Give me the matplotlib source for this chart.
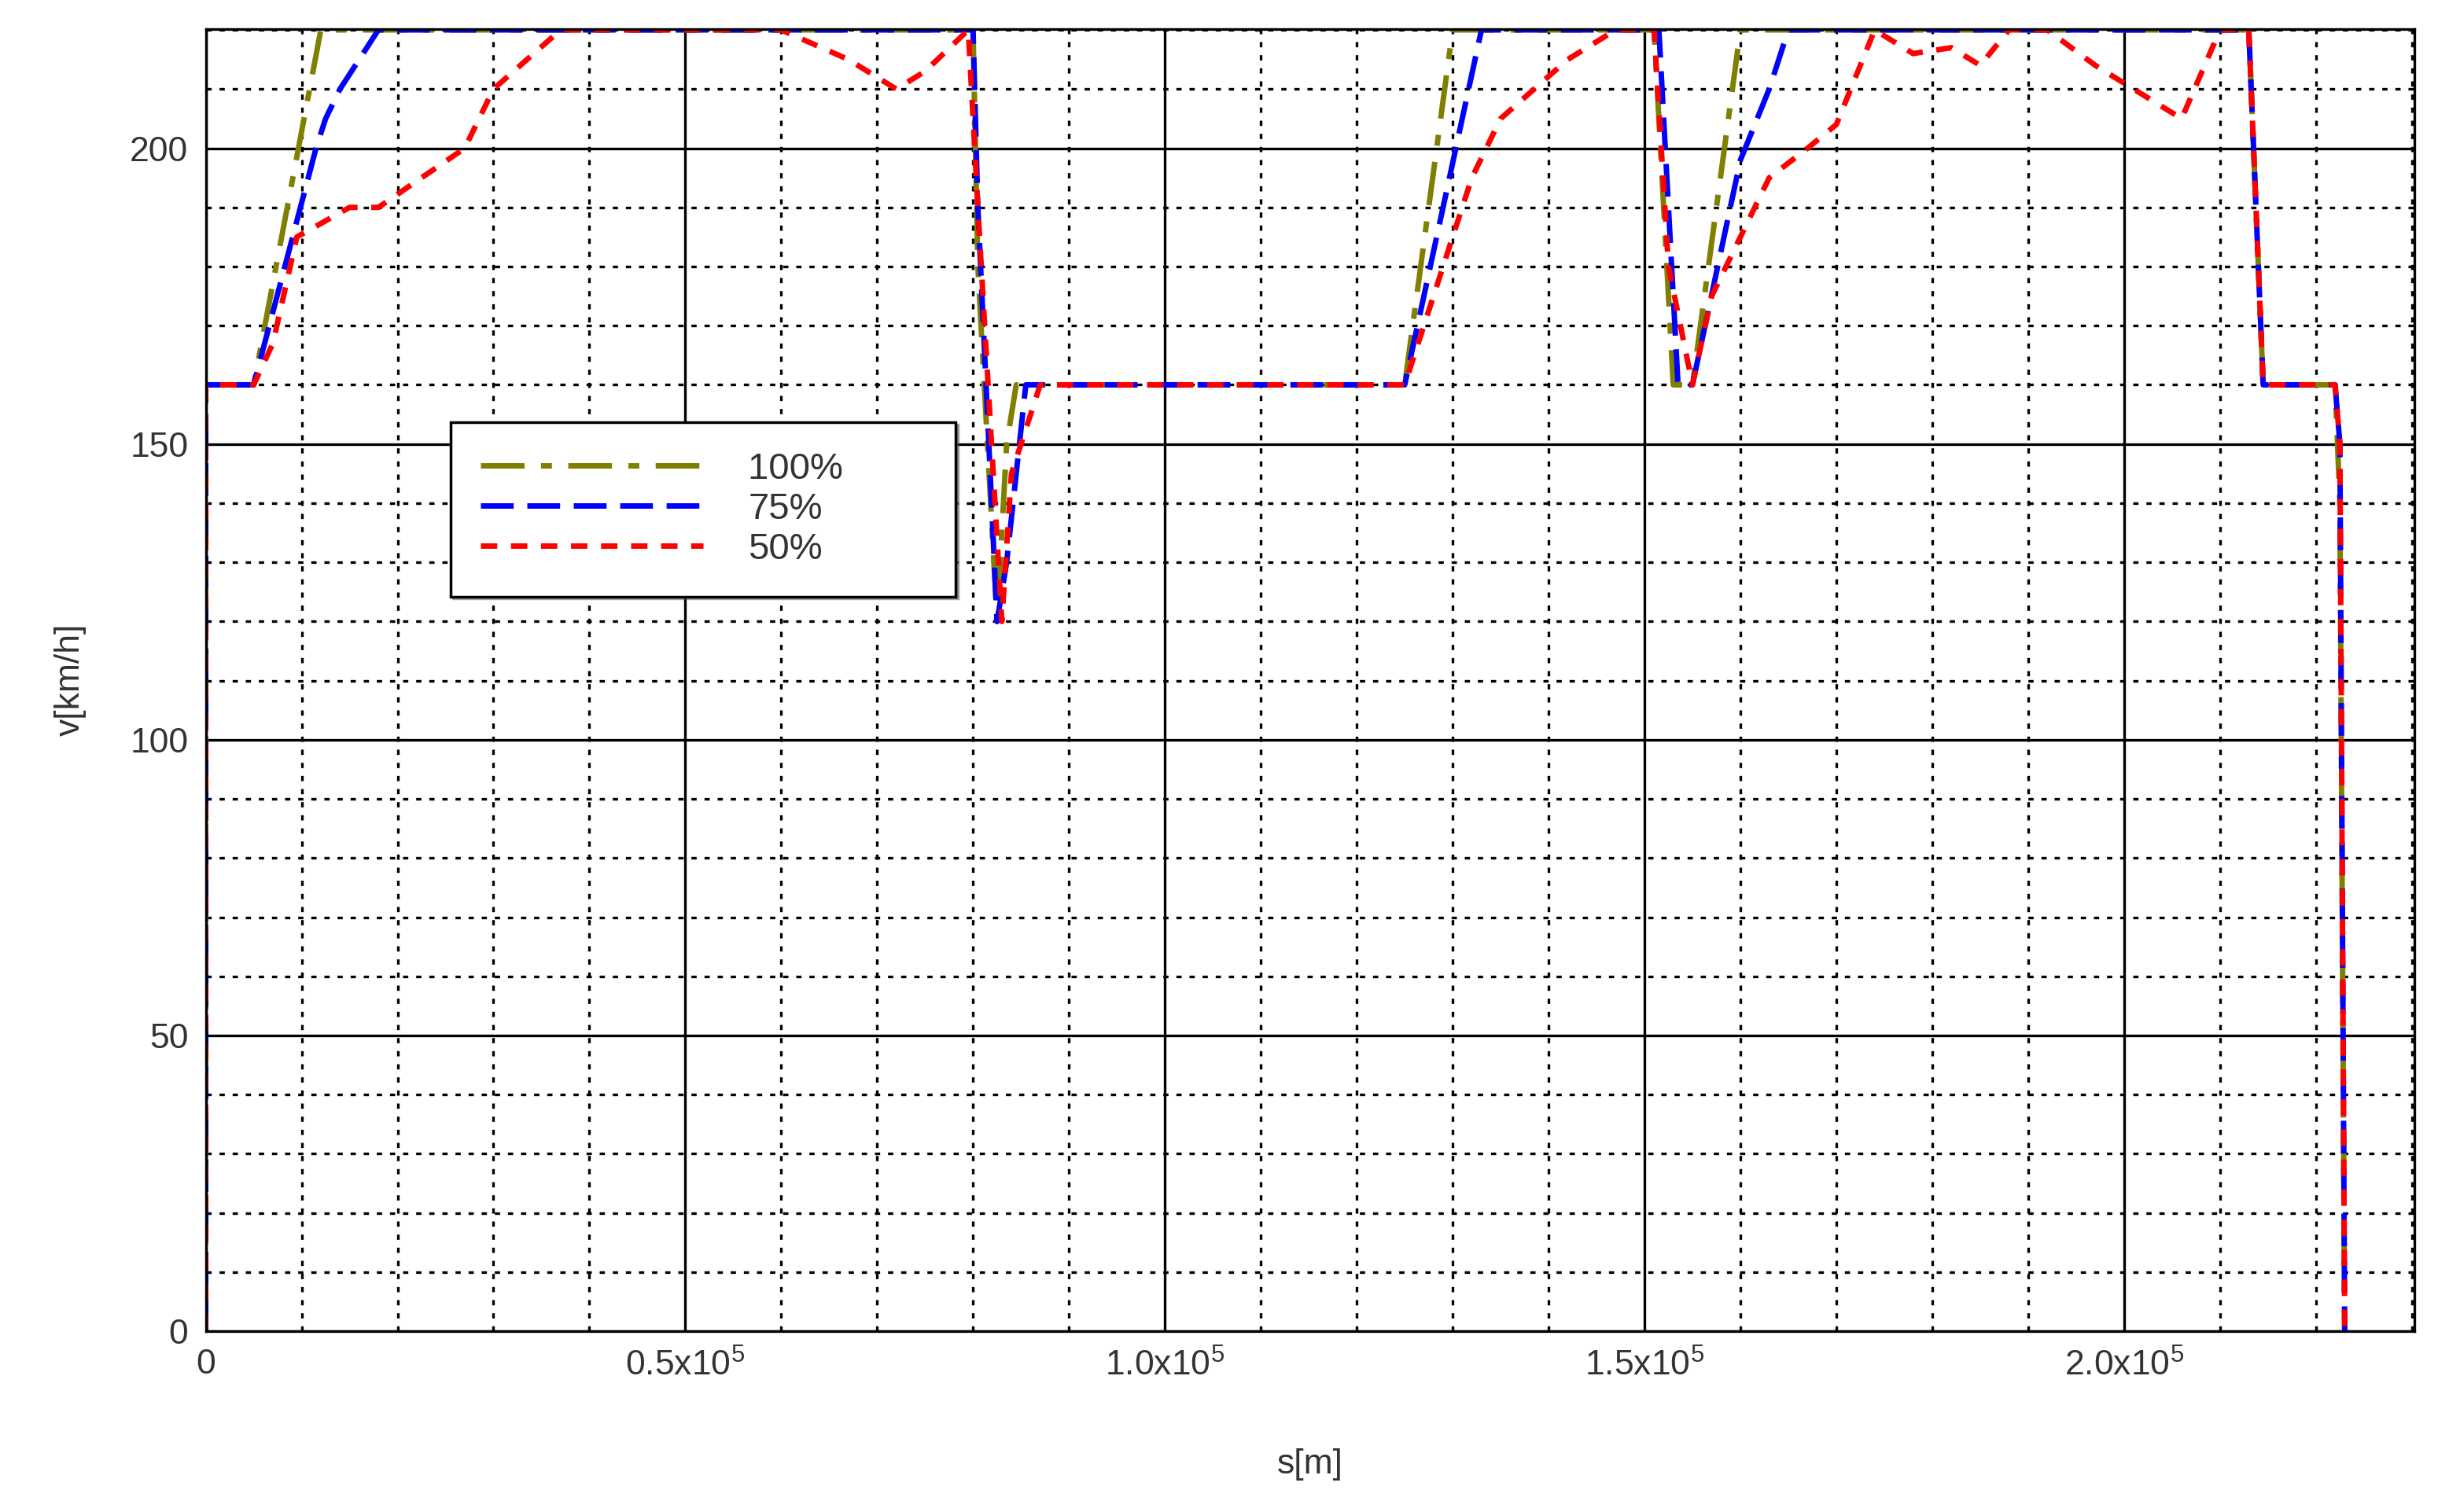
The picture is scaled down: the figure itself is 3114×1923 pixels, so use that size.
import matplotlib
matplotlib.use("Agg")
import matplotlib.pyplot as plt
from matplotlib.ticker import MultipleLocator, FixedLocator

plt.rcParams['font.family'] = ['Liberation Sans', 'DejaVu Sans']
plt.rcParams['mathtext.fontset'] = 'custom'
plt.rcParams['mathtext.rm'] = 'Liberation Sans'

# distance in 1e3 m, speed in km/h
s100 = [0, 0, 5, 12, 80, 80.5, 82.5, 83.5, 84.5, 125, 130, 151, 153, 155, 160, 213, 214.5, 222, 222.5, 223]
v100 = [0, 160, 160, 220, 220, 180, 120, 150, 160, 160, 220, 220, 160, 160, 220, 220, 160, 160, 140, 0]
s75 = [0, 0, 5, 11.5, 12.5, 14, 18, 80, 80.5, 82.5, 83.5, 85.5, 125, 133, 151.5, 153.5, 155, 160, 163, 165, 213, 214.5, 222, 222.5, 223]
v75 = [0, 160, 160, 200, 205, 210, 220, 220, 190, 120, 130, 160, 160, 220, 220, 160, 160, 198, 210, 220, 220, 160, 160, 150, 0]
s50 = [0, 0, 5, 7, 9.5, 15, 18, 27, 30, 37, 60, 67, 72, 75, 79.5, 80.5, 83, 84, 87, 125, 128, 132, 135, 142, 147, 151,
       152.5, 155, 157, 160, 163, 167, 170, 174, 178, 182, 185, 188, 192, 197, 204, 206, 210, 213, 214.5, 222, 222.5, 223]
v50 = [0, 160, 160, 167, 185, 190, 190, 200, 210, 220, 220, 215, 210, 213, 220, 190, 120, 145, 160, 160, 175, 195, 205, 215, 220, 220,
       180, 160, 175, 185, 195, 200, 204, 220, 216, 217, 214, 220, 220, 214, 207, 205, 220, 220, 160, 160, 150, 0]
labels = ["100%", "75%", "50%"]
xtick_vals = [0, 50, 100, 150, 200]
xtick_labels = ["0", r"0.5x10$^5$", r"1.0x10$^5$", r"1.5x10$^5$", r"2.0x10$^5$"]

fig = plt.figure(figsize=(31.14, 19.23), dpi=100)
ax = fig.add_axes([0.084, 0.1195, 0.902, 0.8615])
ax.plot(s100, v100, color="#808000", lw=5, linestyle=(0, (8, 3, 2, 3)), label=labels[0] + "        ")
ax.plot(s75, v75, color="#0000ff", lw=5, linestyle=(0, (6, 2.5)), label=labels[1])
ax.plot(s50, v50, color="#ff0000", lw=5, linestyle=(0, (3, 2.5)), label=labels[2])

ax.set_xlim(0, 230.3)
ax.set_ylim(0, 220.2)
ax.xaxis.set_major_locator(FixedLocator(xtick_vals))
ax.set_xticklabels(xtick_labels)
ax.yaxis.set_major_locator(MultipleLocator(50))
ax.xaxis.set_minor_locator(MultipleLocator(10))
ax.yaxis.set_minor_locator(MultipleLocator(10))
ax.grid(which="major", color="black", lw=2.4, ls="-")
ax.grid(which="minor", color="black", lw=2.4, ls=(0, (2, 3)))
ax.set_axisbelow(True)
for sp in ax.spines.values():
    sp.set_linewidth(2.4)
ax.tick_params(which="both", length=0, labelsize=32, labelcolor="#333333", pad=16)
ax.set_xlabel("s[m]", fontsize=32, color="#333333", labelpad=60)
ax.set_ylabel("v[km/h]", fontsize=32, color="#333333", labelpad=40)

leg = ax.legend(loc="upper left", bbox_to_anchor=(0.111, 0.698), fontsize=34, handlelength=6,
                frameon=True, fancybox=False, shadow=True, edgecolor="black", borderpad=0.8,
                labelspacing=0.15, handletextpad=1.2, borderaxespad=0)
leg.get_frame().set_linewidth(2.5)
for t in leg.get_texts():
    t.set_color("#333333")
fig.savefig("out.png", dpi=100)
